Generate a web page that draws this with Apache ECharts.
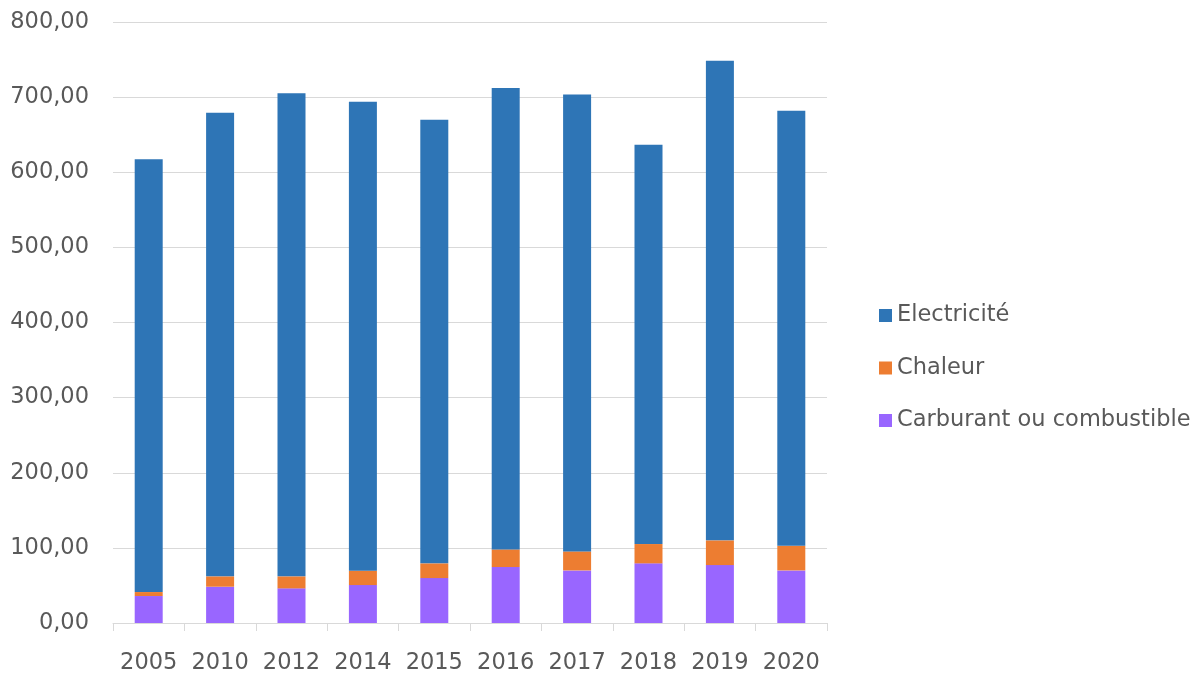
<!DOCTYPE html>
<html>
<head>
<meta charset="utf-8">
<script src="https://cdn.jsdelivr.net/npm/echarts@6/dist/echarts.min.js"></script>
<style>html,body{margin:0;padding:0;background:#fff}#c{width:1203px;height:675px}</style>
</head>
<body>
<div id="c"></div>
<script>
const years = ['2005','2010','2012','2014','2015','2016','2017','2018','2019','2020'];
const carburant = [35.9, 48.3, 46.1, 50.5, 59.8, 74.5, 70.0, 79.4, 77.1, 70.0];
const chaleur = [5.3, 13.8, 16.0, 19.1, 19.6, 23.5, 25.3, 25.7, 32.9, 32.8];
const electricite = [576.2, 617.0, 643.1, 624.1, 590.4, 614.3, 608.2, 531.5, 638.3, 579.0];

const font = '"DejaVu Sans", sans-serif';
const chart = echarts.init(document.getElementById('c'));
chart.setOption({
  animation: false,
  grid: {left: 113, right: 376, top: 22, bottom: 51, containLabel: false},
  legend: {
    orient: 'vertical', left: 874, top: 299, itemGap: 29.5,
    itemWidth: 13, itemHeight: 13, icon: 'rect',
    data: ['Electricité', 'Chaleur', 'Carburant ou combustible'],
    textStyle: {fontFamily: font, fontSize: 22.5, color: '#595959', padding: [0,0,0,0]}
  },
  xAxis: {
    type: 'category', data: years,
    axisLine: {lineStyle: {color: '#D9D9D9'}},
    axisTick: {show: true, length: 8, lineStyle: {color: '#D9D9D9'}},
    axisLabel: {fontFamily: font, fontSize: 22.5, color: '#595959', margin: 29, interval: 0, hideOverlap: false}
  },
  yAxis: {
    type: 'value', min: 0, max: 800, interval: 100,
    axisLine: {show: false}, axisTick: {show: false},
    splitLine: {lineStyle: {color: '#D9D9D9'}},
    axisLabel: {fontFamily: font, fontSize: 22.5, color: '#595959', margin: 24,
      formatter: v => v.toFixed(2).replace('.', ',')}
  },
  series: [
    {name: 'Carburant ou combustible', type: 'bar', stack: 't', data: carburant, barWidth: 28, itemStyle: {color: '#9966FF'}},
    {name: 'Chaleur', type: 'bar', stack: 't', data: chaleur, barWidth: 28, itemStyle: {color: '#ED7D31'}},
    {name: 'Electricité', type: 'bar', stack: 't', data: electricite, barWidth: 28, itemStyle: {color: '#2E75B6'}}
  ]
});
</script>
</body>
</html>
